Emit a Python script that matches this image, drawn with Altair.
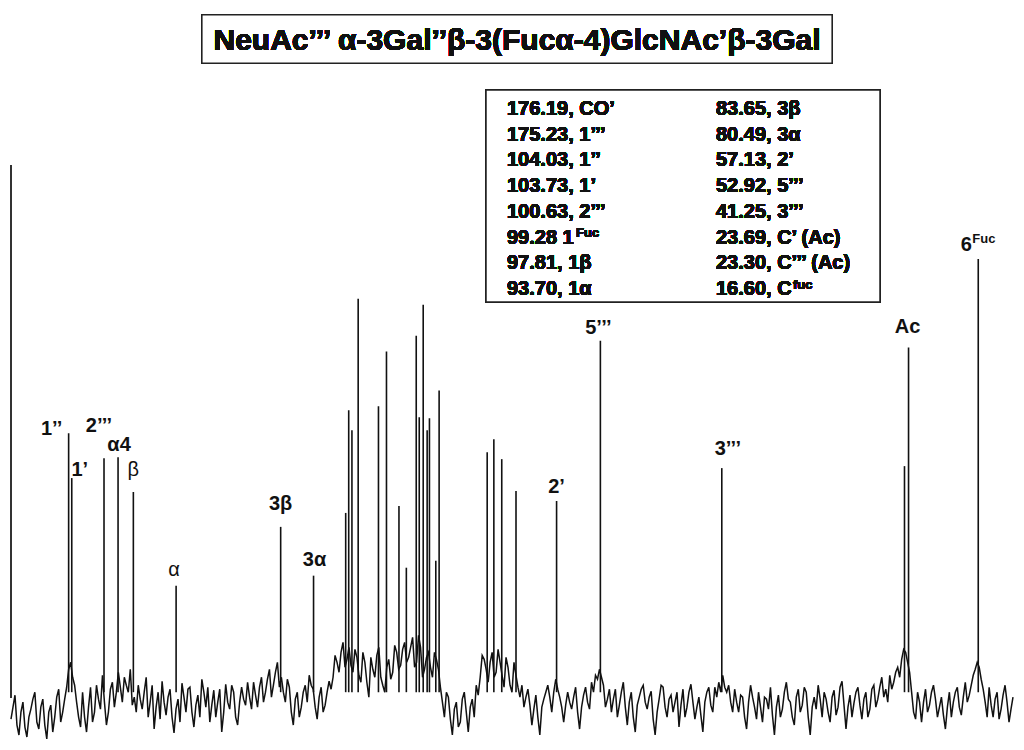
import altair as alt
import numpy as np
import pandas as pd

# ---------------- data ----------------
TITLE = "NeuAc’’’ α-3Gal’’β-3(Fucα-4)GlcNAc’β-3Gal"

# 13C chemical shifts (ppm) of the resolved resonances and their heights (arbitrary units)
peak_ppm = [104.03, 103.73, 100.63, 99.28, 97.81, 93.70, 83.65, 80.49,
            77.40, 77.11, 76.80, 76.20, 74.25, 73.48, 72.28, 71.57,
            70.62, 70.33, 69.95, 69.57, 69.35, 68.74, 68.42,
            63.80, 63.16, 62.40, 61.03, 57.13, 52.92, 41.25,
            23.69, 23.30, 16.60]
peak_height = [315, 270, 290, 291, 256, 162, 221, 172,
               235, 338, 318, 450, 342, 397, 242, 180,
               413, 331, 444, 318, 330, 187, 358,
               296, 309, 289, 257, 247, 408, 280,
               282, 401, 490]
peak_label = ["1’’", "1’", "2’’’", "α4", "β", "α", "3β", "3α",
              "", "", "", "", "", "", "", "",
              "", "", "", "", "", "", "",
              "", "", "", "", "2’", "5’’’", "3’’’",
              "", "Ac", "6"]

# baseline noise of the spectrum, read left to right (arbitrary units):
# samples on the main grid ...
noise = [28, 52, 12, 45, 10, 38, 55, 18, 48, 8, 42, 30, 58, 35,
         60, 85, 62, 30,
         55, 15, 60, 35, 48,
         72, 22, 58, 40, 75, 45, 62, 78, 50,
         62, 38, 70, 45, 18, 55, 66, 32, 58, 14, 48, 64, 35, 60, 20, 52, 68, 40, 25, 57, 45, 15, 63, 38, 55, 22, 60, 42, 50,
         65, 40, 70, 55, 78, 62, 85, 70, 45, 60, 22, 55, 40, 62, 72, 58, 28, 60, 42, 66,
         70, 85, 95, 80, 100, 75, 90, 65, 85, 50, 78, 92, 70, 55, 88, 75, 95, 82, 105, 90, 110, 85, 100, 78, 95, 70, 88,
         60, 30, 50, 12, 45, 25, 55, 15, 48, 62,
         70, 88, 65, 95, 75, 85, 60, 80, 55, 72, 50,
         40, 58, 22, 52, 12, 48, 62, 35,
         68, 50, 25,
         55, 38, 60, 18, 52, 45,
         65, 72, 78, 62, 48,
         35, 58, 42, 65, 22, 55, 15, 50, 62, 38, 56, 12, 48, 60, 30, 52, 45, 20, 58, 40, 63, 28, 50, 15, 55, 42, 60, 65,
         72, 55, 45,
         58, 35, 50, 18, 62, 40, 55, 25, 48, 60, 12, 52, 38, 65, 45, 22, 58, 42, 55, 12, 50, 62, 30, 48, 25, 57, 40, 66, 18, 52, 44, 60, 28, 55, 38, 62, 48, 70, 58,
         72, 65, 80, 88, 95, 75, 35, 55,
         25, 58, 42, 62, 30, 50, 18, 55, 45, 60, 32, 65, 52,
         72, 85, 68, 45,
         60, 30, 55, 38, 62, 25, 50]
# ... and the samples lying between them
noise_mid = [40, 22, 35, 20, 30, 48, 25, 40, 22, 35, 15, 50, 25,
             48,
             78, 70, 45,
             20,
             30, 40, 25, 62,
             38,
             45, 35, 65, 55, 60, 70, 55, 42,
             35,
             48, 55, 30, 62, 40, 28, 45, 50, 30, 38, 25, 50, 58, 35, 42, 30, 55, 60, 42, 30, 58, 35, 45, 62, 30, 45, 48, 65,
             38,
             52, 60, 45, 68, 50, 75, 60, 55, 68, 35, 48, 30, 55, 45, 62, 40, 50, 35, 55,
             58,
             92, 75, 105, 88, 82, 98, 72, 95, 65, 90, 70, 100, 62, 80, 68, 102, 78, 98, 85, 100, 80, 112, 70, 90, 80, 95,
             78,
             45, 55, 28, 38, 20, 48, 35, 40, 30,
             52,
             92, 78, 85, 70, 98, 72, 90, 62, 85, 60,
             62,
             50, 42, 38, 30, 40, 55, 50,
             55,
             58, 40,
             42,
             45, 50, 35, 40, 60,
             38,
             55, 68, 70, 40,
             58,
             48, 30, 55, 40, 45, 30, 42, 58, 45, 50, 28, 35, 62, 40, 48, 35, 55, 42, 30, 55, 45, 40, 32, 45, 60, 35, 50,
             55,
             60, 62,
             35,
             45, 52, 30, 45, 50, 28, 40, 50, 38, 32, 40, 30, 55, 48, 30, 50, 35, 60, 30, 40, 38, 48, 55, 35, 50, 32, 60, 42, 40, 30, 55, 42, 48, 30, 58, 40, 60, 50,
             45,
             58, 75, 70, 98, 85, 55, 28,
             45,
             45, 35, 55, 48, 40, 32, 40, 30, 55, 40, 50, 45,
             62,
             78, 80, 58,
             30,
             42, 48, 28, 52, 45, 38]

table_left = ["176.19, CO’", "175.23, 1’’’", "104.03, 1’’", "103.73, 1’",
              "100.63, 2’’’", "99.28 1", "97.81, 1β", "93.70, 1α"]
table_right = ["83.65, 3β", "80.49, 3α", "57.13, 2’", "52.92, 5’’’",
               "41.25, 3’’’", "23.69, C’ (Ac)", "23.30, C’’’ (Ac)", "16.60, C"]

PPM_LEFT, PPM_RIGHT = 109.57, 13.26
BASE_LEVEL = 55

# ---------------- style ----------------
FONT = "Liberation Sans"
INK = "#111111"
W, H = 1008, 734

LABEL_STYLE = {  # label: (dx, dy, weight)
    "1’’": (-17, 2, "bold"),
    "1’": (8, -2, "bold"),
    "2’’’": (-5, -26, "bold"),
    "α4": (1, -6, "bold"),
    "β": (0, -16, "normal"),
    "α": (-2, -10, "normal"),
    "3β": (0, -17, "bold"),
    "3α": (1, -10, "bold"),
    "2’": (0, -8, "bold"),
    "5’’’": (-2, -7, "bold"),
    "3’’’": (6, -13, "bold"),
    "Ac": (-1, -15, "bold"),
    "6": (-12, -8, "bold"),
}

# ---------------- chart ----------------
xscale = alt.Scale(domain=[PPM_RIGHT, PPM_LEFT], reverse=True, nice=False, zero=False)
yscale = alt.Scale(domain=[8, 742], nice=False, zero=False)

peaks = pd.DataFrame({"ppm": peak_ppm, "height": peak_height, "label": peak_label})

grid = np.linspace(PPM_LEFT, PPM_RIGHT, len(noise))
half = (grid[1] - grid[0]) / 2
mid_grid = grid[:len(noise_mid)] + half
noise_df = pd.DataFrame({
    "ppm": np.concatenate([grid, mid_grid]),
    "level": list(noise) + list(noise_mid[:len(mid_grid)]),
})

X = alt.X("ppm:Q", scale=xscale, axis=None)
Y = alt.Y("height:Q", scale=yscale, axis=None)

noise_layer = alt.Chart(noise_df).mark_line(color=INK, strokeWidth=1.5).encode(
    x=X, y=alt.Y("level:Q", scale=yscale, axis=None), order=alt.Order("ppm:Q", sort="descending"))

peak_layer = alt.Chart(peaks).mark_rule(color=INK, strokeWidth=1.6).encode(
    x=X, y=Y, y2=alt.datum(BASE_LEVEL))

label_layers = []
for lab, (dx, dy, wt) in LABEL_STYLE.items():
    label_layers.append(
        alt.Chart(peaks[peaks["label"] == lab]).mark_text(
            font=FONT, fontSize=20, fontWeight=wt, color=INK,
            align="center", baseline="alphabetic", dx=dx, dy=dy
        ).encode(x=X, y=Y, text="label:N"))

# superscript of the 6-Fuc label
fuc_sup = alt.Chart(peaks[peaks["label"] == "6"]).mark_text(
    font=FONT, fontSize=13, fontWeight="bold", color=INK,
    align="left", baseline="alphabetic", dx=-6, dy=-16, text="Fuc"
).encode(x=X, y=Y)

# left border line of the spectrum window
left_edge = alt.Chart(peaks).mark_rule(color="#333333", strokeWidth=1.5).encode(
    x=alt.value(0), y=alt.value(157), y2=alt.value(690))

# title box
title_box = alt.Chart(peaks).mark_rect(fill="white", stroke="#222222", strokeWidth=1.2).encode(
    x=alt.value(191), x2=alt.value(821), y=alt.value(7), y2=alt.value(55))
title_text = alt.Chart(peaks).mark_text(
    font=FONT, fontSize=30, fontWeight="bold", color=INK,
    align="center", baseline="alphabetic", text=TITLE
).encode(x=alt.value(506), y=alt.value(42))

# assignment table
table_box = alt.Chart(peaks).mark_rect(fill="white", stroke="#222222", strokeWidth=1.5).encode(
    x=alt.value(475), x2=alt.value(869), y=alt.value(82), y2=alt.value(294))
tab_l = alt.Chart(peaks).mark_text(
    font=FONT, fontSize=20, fontWeight="bold", color=INK, align="left",
    baseline="alphabetic", lineHeight=25.7, text=table_left
).encode(x=alt.value(496), y=alt.value(107))
tab_r = alt.Chart(peaks).mark_text(
    font=FONT, fontSize=20, fontWeight="bold", color=INK, align="left",
    baseline="alphabetic", lineHeight=25.7, text=table_right
).encode(x=alt.value(705), y=alt.value(107))
sup_l = alt.Chart(peaks).mark_text(
    font=FONT, fontSize=13, fontWeight="bold", color=INK, align="left",
    baseline="alphabetic", text="Fuc"
).encode(x=alt.value(565), y=alt.value(229))
sup_r = alt.Chart(peaks).mark_text(
    font=FONT, fontSize=13, fontWeight="bold", color=INK, align="left",
    baseline="alphabetic", text="fuc"
).encode(x=alt.value(782), y=alt.value(281))

chart = alt.layer(
    noise_layer, peak_layer, left_edge, *label_layers, fuc_sup,
    title_box, title_text, table_box, tab_l, tab_r, sup_l, sup_r
).properties(
    width=W, height=H, padding=0,
    autosize=alt.AutoSizeParams(type="fit", contains="padding"),
    background="white",
).configure_view(stroke=None)

chart.save("out.html", embed_options={"renderer": "svg", "actions": False})
